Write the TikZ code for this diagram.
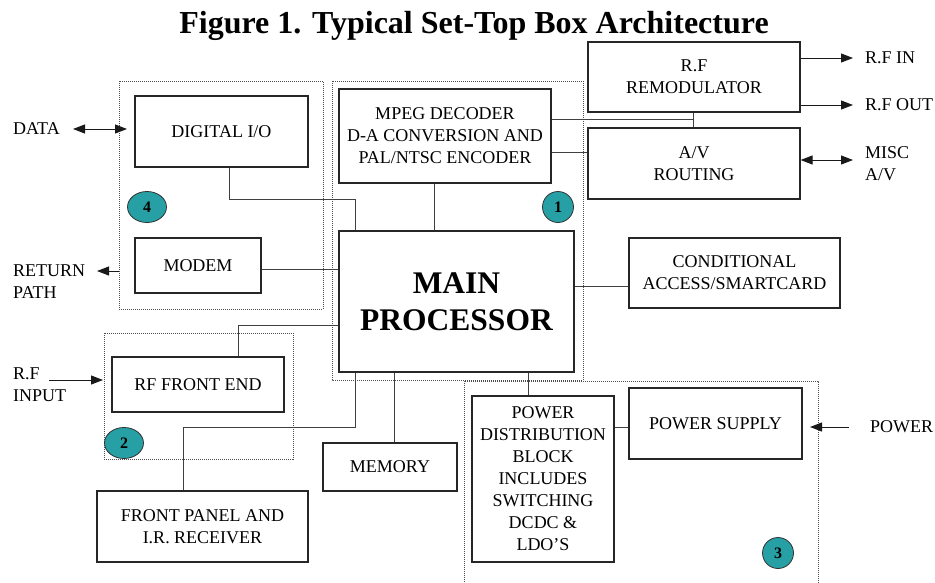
\documentclass[tikz,border=0pt]{standalone}
\usepackage{fontspec}
\setmainfont{Liberation Serif}
\usetikzlibrary{arrows.meta, shapes.geometric}
\definecolor{badgeteal}{RGB}{38,160,164}
\tikzset{>={Triangle[length=12pt,width=9pt]}, % filled arrow heads
block/.style={draw=black!85, line width=1.2pt, inner sep=0pt, align=center, font=\fontsize{18}{22}\selectfont}, % one unit of the box
tag/.style={inner sep=0pt, align=left, font=\fontsize{18}{22}\selectfont}, % outside signal names
group/.style={draw=black!70, line width=0.8pt, dash pattern=on 1pt off 1pt}, % dotted frame round a group of units
badge/.style={ellipse, draw=black!80, line width=0.8pt, fill=badgeteal, inner sep=0pt, minimum height=31pt, font=\fontsize{16}{16}\selectfont\bfseries}, % numbered marker
wire/.style={draw=black!75, line width=0.9pt}, % plain connection
signal/.style={draw=black!90, line width=1pt}, % arrow to the outside
}

\begin{document}
\begin{tikzpicture}[x=1pt, y=-1pt]
    \useasboundingbox (0,0) rectangle (935,582);
    \node[anchor=base, font=\fontsize{32}{32}\selectfont\bfseries] (title) at (474,33) {Figure 1. Typical Set-Top Box Architecture};

    % dotted groups
    \draw[group] (119,81) rectangle (323,309);
    \draw[group] (332,81) rectangle (583,380);
    \draw[group] (104,333) rectangle (293,459);
    \draw[group] (464,584) |- (818,381) -- (818,584);

    % units
    \node[block, minimum width=173pt, minimum height=71pt] (dio) at (221.5,131.5) {DIGITAL I/O};
    \node[block, minimum width=126pt, minimum height=55pt] (modem) at (198,265.5) {MODEM};
    \node[block, minimum width=212pt, minimum height=94pt] (mpeg) at (445,136) {MPEG DECODER\\D-A CONVERSION AND\\PAL/NTSC ENCODER};
    \node[block, minimum width=212pt, minimum height=70pt] (remod) at (694,77) {R.F\\REMODULATOR};
    \node[block, minimum width=212pt, minimum height=71pt] (avr) at (694,163.5) {A/V\\ROUTING};
    \node[block, minimum width=235pt, minimum height=141pt, font=\fontsize{31.5}{37}\selectfont\bfseries] (cpu) at (456.5,301.5) {MAIN\\PROCESSOR};
    \node[block, minimum width=211pt, minimum height=70pt] (ca) at (734.5,273) {CONDITIONAL\\ACCESS/SMARTCARD};
    \node[block, minimum width=172pt, minimum height=55pt] (rffe) at (198,384.5) {RF FRONT END};
    \node[block, minimum width=211pt, minimum height=71pt] (fp) at (202.5,526.5) {FRONT PANEL AND\\I.R. RECEIVER};
    \node[block, minimum width=134pt, minimum height=48pt] (mem) at (390,467) {MEMORY};
    \node[block, minimum width=142pt, minimum height=166pt] (pdb) at (543,479) {POWER\\DISTRIBUTION\\BLOCK\\INCLUDES\\SWITCHING\\DCDC \&\\LDO'S};
    \node[block, minimum width=173pt, minimum height=71pt] (psu) at (715.5,423.5) {POWER SUPPLY};

    % group numbers
    \node[badge, minimum width=31pt] (n1) at (558,207) {1};
    \node[badge, minimum width=39pt] (n2) at (124,443) {2};
    \node[badge, minimum width=31pt] (n3) at (778,553) {3};
    \node[badge, minimum width=39pt] (n4) at (147,207) {4};

    % outside signals
    \node[tag, anchor=west] (data) at (13,129) {DATA};
    \node[tag, anchor=west] (ret) at (13,282) {RETURN\\PATH};
    \node[tag, anchor=west] (rfinput) at (13,384.5) {R.F\\INPUT};
    \node[tag, anchor=west] (rfin) at (865,58) {R.F IN};
    \node[tag, anchor=west] (rfout) at (865,105) {R.F OUT};
    \node[tag, anchor=west] (misc) at (865,164) {MISC\\A/V};
    \node[tag, anchor=west] (power) at (870,427) {POWER};

    % bend and end points
    \coordinate (dio-j1) at (229,199);
    \coordinate (dio-j2) at (355,199);
    \coordinate (modem-j) at (261,269);
    \coordinate (mpeg-j) at (434,0);
    \coordinate (av-j) at (693,119);
    \coordinate (mpeg-av) at (0,152);
    \coordinate (ca-j) at (0,286);
    \coordinate (rf-j) at (238,325);
    \coordinate (fp-j1) at (355,427);
    \coordinate (fp-j2) at (183,427);
    \coordinate (mem-j) at (394,0);
    \coordinate (pdb-j) at (528,0);
    \coordinate (psu-j) at (0,427);
    \coordinate (data-a) at (73,129);
    \coordinate (data-b) at (127,129);
    \coordinate (ret-a) at (119,271);
    \coordinate (ret-b) at (97,271);
    \coordinate (rfinput-a) at (49,380);
    \coordinate (rfinput-b) at (103,380);
    \coordinate (rfin-a) at (853,58);
    \coordinate (rfout-a) at (853,105);
    \coordinate (misc-a) at (853,160);
    \coordinate (power-a) at (849,427);
    \coordinate (power-b) at (810,427);

    % connections
    \draw[wire] (dio.south -| dio-j1) -- (dio-j1) -- (dio-j2) -- (cpu.north -| dio-j2);
    \draw[wire] (modem.east |- modem-j) -- (cpu.west |- modem-j);
    \draw[wire] (mpeg.south -| mpeg-j) -- (cpu.north -| mpeg-j);
    \draw[wire] (mpeg.east |- av-j) -- (av-j);
    \draw[wire] (remod.south -| av-j) -- (avr.north -| av-j);
    \draw[wire] (mpeg.east |- mpeg-av) -- (avr.west |- mpeg-av);
    \draw[wire] (cpu.east |- ca-j) -- (ca.west |- ca-j);
    \draw[wire] (cpu.west |- rf-j) -- (rf-j) -- (rffe.north -| rf-j);
    \draw[wire] (cpu.south -| fp-j1) -- (fp-j1) -- (fp-j2) -- (fp.north -| fp-j2);
    \draw[wire] (cpu.south -| mem-j) -- (mem.north -| mem-j);
    \draw[wire] (cpu.south -| pdb-j) -- (pdb.north -| pdb-j);
    \draw[wire] (pdb.east |- psu-j) -- (psu.west |- psu-j);

    % signal arrows
    \draw[signal, <->] (data-a) -- (data-b);
    \draw[signal, ->] (ret-a) -- (ret-b);
    \draw[signal, ->] (rfinput-a) -- (rfinput-b);
    \draw[signal, ->] (remod.east |- rfin-a) -- (rfin-a);
    \draw[signal, ->] (remod.east |- rfout-a) -- (rfout-a);
    \draw[signal, <->] (avr.east |- misc-a) -- (misc-a);
    \draw[signal, ->] (power-a) -- (power-b);
\end{tikzpicture}
\end{document}
